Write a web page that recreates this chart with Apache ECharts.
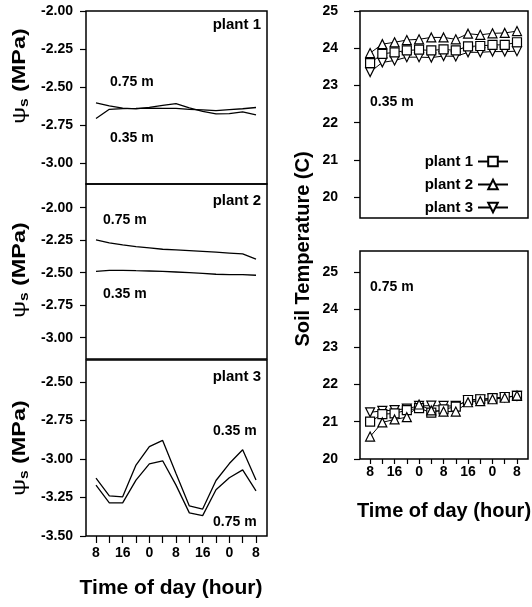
<!DOCTYPE html>
<html>
<head>
<meta charset="utf-8">
<script src="https://cdn.jsdelivr.net/npm/echarts@6.0.0/dist/echarts.min.js"></script>
<style>
  html, body { margin: 0; padding: 0; background: #fff; }
  #chart { width: 532px; height: 607px; }
</style>
</head>
<body>
<div id="chart"></div>
<script>
// hours since 8:00 on the first day, one reading every 4 h
const hours = [0, 4, 8, 12, 16, 20, 24, 28, 32, 36, 40, 44, 48];
const hourLabelPos = [0, 8, 16, 24, 32, 40, 48];
const hourLabels = ['8', '16', '0', '8', '16', '0', '8'];

// soil water potential (MPa)
const plant1Psi075 = [-2.605, -2.625, -2.640, -2.645, -2.635, -2.622, -2.610, -2.638, -2.662, -2.678, -2.676, -2.665, -2.685];
const plant1Psi035 = [-2.708, -2.648, -2.643, -2.642, -2.640, -2.642, -2.642, -2.648, -2.652, -2.656, -2.650, -2.644, -2.636];
const plant2Psi075 = [-2.248, -2.270, -2.287, -2.300, -2.310, -2.320, -2.325, -2.330, -2.336, -2.342, -2.349, -2.356, -2.395];
const plant2Psi035 = [-2.490, -2.483, -2.482, -2.485, -2.487, -2.490, -2.495, -2.500, -2.505, -2.512, -2.515, -2.515, -2.520];
const plant3Psi035 = [-3.125, -3.240, -3.246, -3.040, -2.920, -2.880, -3.095, -3.305, -3.325, -3.140, -3.030, -2.940, -3.137];
const plant3Psi075 = [-3.170, -3.285, -3.285, -3.137, -3.032, -3.012, -3.170, -3.350, -3.368, -3.200, -3.122, -3.071, -3.207];

// soil temperature (C)
const temp035Plant1 = [23.60, 23.85, 23.89, 23.94, 23.96, 23.94, 23.97, 23.94, 24.05, 24.06, 24.09, 24.09, 24.16];
const temp035Plant2 = [23.87, 24.11, 24.16, 24.22, 24.24, 24.29, 24.29, 24.24, 24.39, 24.36, 24.40, 24.41, 24.46];
const temp035Plant3 = [23.36, 23.62, 23.67, 23.76, 23.76, 23.75, 23.79, 23.78, 23.89, 23.89, 23.91, 23.91, 23.92];
const temp075Plant1 = [21.00, 21.20, 21.22, 21.31, 21.36, 21.24, 21.33, 21.40, 21.58, 21.60, 21.63, 21.66, 21.69];
const temp075Plant2 = [20.60, 20.98, 21.06, 21.12, 21.46, 21.30, 21.27, 21.27, 21.52, 21.55, 21.60, 21.64, 21.70];
const temp075Plant3 = [21.25, 21.29, 21.31, 21.35, 21.42, 21.43, 21.42, 21.42, 21.57, 21.59, 21.62, 21.65, 21.69];

const psiTicksUpper = [-3.00, -2.75, -2.50, -2.25, -2.00];
const psiTicksLower = [-3.50, -3.25, -3.00, -2.75, -2.50];
const tempTicks = [20, 21, 22, 23, 24, 25];

const FONT = '"Liberation Sans", Arial, sans-serif';
const chart = echarts.init(document.getElementById('chart'));

const pairs = (vals) => hours.map((h, i) => [h, vals[i]]);

function timeAxis(gridIndex, min, max, show, tickLen, margin) {
  return {
    type: 'value', gridIndex, min, max,
    axisLine: { show: false, onZero: false },
    splitLine: { show: false },
    axisTick: { show, customValues: hours, length: tickLen, lineStyle: { color: '#000', width: 1.2 } },
    axisLabel: {
      show, customValues: hourLabelPos, margin,
      color: '#000', fontFamily: FONT, fontWeight: 'bold', fontSize: 14,
      formatter: (v) => hourLabels[hourLabelPos.indexOf(v)]
    }
  };
}

function valueAxis(gridIndex, min, max, ticks, digits, margin) {
  return {
    type: 'value', gridIndex, min, max,
    axisLine: { show: false, onZero: false },
    splitLine: { show: false },
    axisTick: { show: true, customValues: ticks, length: 6, lineStyle: { color: '#000', width: 1.2 } },
    axisLabel: {
      customValues: ticks, margin,
      color: '#000', fontFamily: FONT, fontWeight: 'bold', fontSize: 14,
      formatter: (v) => v.toFixed(digits)
    }
  };
}

function psiLine(idx, vals) {
  return {
    type: 'line', xAxisIndex: idx, yAxisIndex: idx, data: pairs(vals),
    symbol: 'none', lineStyle: { color: '#000', width: 1.3 }, silent: true
  };
}

const markerStyle = { color: '#fff', borderColor: '#000', borderWidth: 1.2 };
function tempLine(idx, name, vals, symbol, rotate) {
  return {
    type: 'line', name, xAxisIndex: idx, yAxisIndex: idx, data: pairs(vals),
    symbol, symbolSize: 9, symbolRotate: rotate,
    itemStyle: markerStyle, lineStyle: { color: '#000', width: 1 }
  };
}

const gridBox = { show: true, borderColor: '#000', borderWidth: 1.5, backgroundColor: 'transparent' };

function label(text, x, y, size, align) {
  return {
    type: 'text', x, y,
    style: { text, fill: '#000', font: 'bold ' + size + 'px ' + FONT, align: align || 'left', verticalAlign: 'middle' }
  };
}

function psiTitle(y) {
  return {
    type: 'text', x: 20, y, rotation: Math.PI / 2, scaleX: 1.3,
    style: {
      text: '{p|ψ}{s|s}{t| (MPa)}', align: 'center', verticalAlign: 'middle',
      rich: {
        p: { fontFamily: FONT, fontSize: 18, fill: '#000', lineHeight: 22 },
        s: { fontFamily: FONT, fontSize: 12, fontWeight: 'bold', fill: '#000', lineHeight: 22, verticalAlign: 'bottom', padding: [6, 0, 0, 0] },
        t: { fontFamily: FONT, fontSize: 18, fontWeight: 'bold', fill: '#000', lineHeight: 22 }
      }
    }
  };
}

chart.setOption({
  animation: false,
  grid: [
    Object.assign({ left: 86, top: 11, width: 181, height: 173 }, gridBox),
    Object.assign({ left: 86, top: 184, width: 181, height: 175 }, gridBox),
    Object.assign({ left: 86, top: 360, width: 181, height: 176 }, gridBox),
    Object.assign({ left: 360, top: 11, width: 168, height: 207 }, gridBox),
    Object.assign({ left: 360, top: 251, width: 168, height: 208 }, gridBox)
  ],
  xAxis: [
    timeAxis(0, -3, 51.3, false, 6, 9),
    timeAxis(1, -3, 51.3, false, 6, 9),
    timeAxis(2, -3, 51.3, true, 7, 10),
    timeAxis(3, -3.3, 51.6, false, 5, 6),
    timeAxis(4, -3.3, 51.6, true, 5, 6)
  ],
  yAxis: [
    valueAxis(0, -3.14, -2.0, psiTicksUpper, 2, 13),
    valueAxis(1, -3.164, -1.818, psiTicksUpper, 2, 13),
    valueAxis(2, -3.5, -2.358, psiTicksLower, 2, 13),
    valueAxis(3, 19.44, 25, tempTicks, 0, 22),
    valueAxis(4, 20, 25.57, tempTicks, 0, 22)
  ],
  legend: {
    data: ['plant 1', 'plant 2', 'plant 3'],
    orient: 'vertical', right: 18, top: 149, align: 'right',
    itemWidth: 30, itemHeight: 12, itemGap: 8,
    textStyle: { color: '#000', fontFamily: FONT, fontWeight: 'bold', fontSize: 15 }
  },
  series: [
    psiLine(0, plant1Psi075), psiLine(0, plant1Psi035),
    psiLine(1, plant2Psi075), psiLine(1, plant2Psi035),
    psiLine(2, plant3Psi035), psiLine(2, plant3Psi075),
    tempLine(3, 'plant 3', temp035Plant3, 'triangle', 180),
    tempLine(3, 'plant 1', temp035Plant1, 'rect', 0),
    tempLine(3, 'plant 2', temp035Plant2, 'triangle', 0),
    tempLine(4, 'plant 3', temp075Plant3, 'triangle', 180),
    tempLine(4, 'plant 1', temp075Plant1, 'rect', 0),
    tempLine(4, 'plant 2', temp075Plant2, 'triangle', 0)
  ],
  graphic: [
    label('plant 1', 261, 25, 15, 'right'),
    label('plant 2', 261, 201, 15, 'right'),
    label('plant 3', 261, 377, 15, 'right'),
    label('0.75 m', 110, 82, 14),
    label('0.35 m', 110, 138, 14),
    label('0.75 m', 103, 220, 14),
    label('0.35 m', 103, 294, 14),
    label('0.35 m', 213, 431, 14),
    label('0.75 m', 213, 522, 14),
    label('0.35 m', 370, 102, 14),
    label('0.75 m', 370, 287, 14),
    psiTitle(76), psiTitle(270), psiTitle(448),
    label('Time of day (hour)', 171, 588, 21, 'center'),
    label('Time of day (hour)', 444, 511, 20, 'center'),
    {
      type: 'text', x: 303, y: 249, rotation: Math.PI / 2,
      style: { text: 'Soil Temperature (C)', fill: '#000', font: 'bold 20px ' + FONT, align: 'center', verticalAlign: 'middle' }
    }
  ]
});
</script>
</body>
</html>
